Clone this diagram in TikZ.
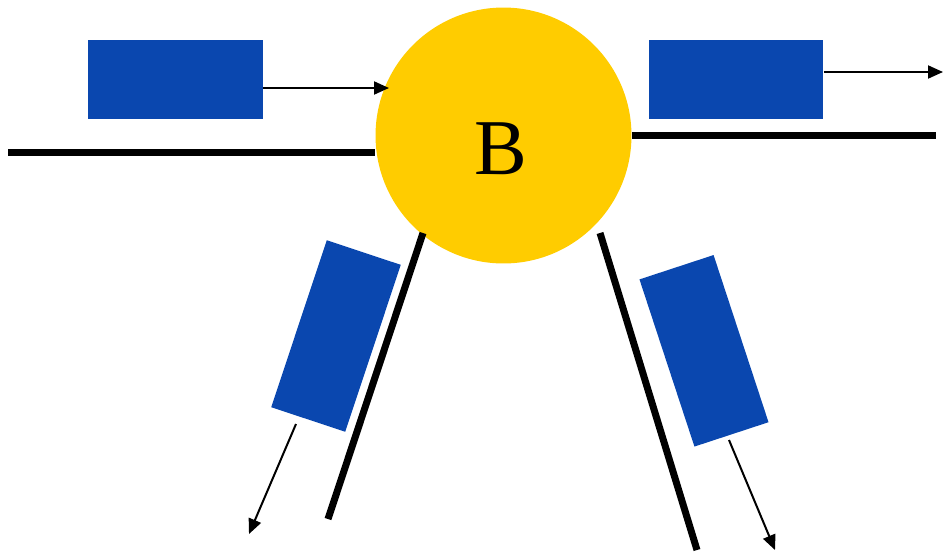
\documentclass[tikz,border=0pt]{standalone}
\usepackage{fontspec}
\setmainfont{Liberation Serif}
\usetikzlibrary{arrows.meta}

\definecolor{busyellow}{RGB}{255,204,0}
\definecolor{flowblue}{RGB}{10,71,175}

\tikzset{
	flowbox/.style={fill=flowblue, inner sep=0pt, minimum width=3.5cm, minimum height=1.58cm},
	slantbox/.style={fill=flowblue, inner sep=0pt, minimum width=1.56cm, minimum height=3.52cm},
	branch/.style={line width=0.14cm},
	flow/.style={line width=0.04cm, -{Triangle[length=0.3cm,width=0.26cm]}}
}

\begin{document}
\begin{tikzpicture}[x=0.02cm,y=-0.02cm]
			\useasboundingbox (0,0) rectangle (943,552);
			
			% bus
			\node[circle, fill=busyellow, minimum size=5.12cm, inner sep=0pt] (bus) at (503.5,135.5) {};
			\node[font=\fontsize{45}{45}\selectfont] (busname) at (501,149) {B};
			
			% branches
			\coordinate (westend) at (8,152);
			\coordinate (eastend) at (936,135);
			\coordinate (swstart) at (423,233);
			\coordinate (swend) at (328,519);
			\coordinate (sestart) at (600,233);
			\coordinate (seend) at (697,550);
			\draw[branch] (westend) -- (bus.west |- westend);
			\draw[branch] (bus.east |- eastend) -- (eastend);
			\draw[branch] (swstart) -- (swend);
			\draw[branch] (sestart) -- (seend);
			
			% flows
			\node[flowbox] (westflow) at (175.5,79.5) {};
			\node[flowbox] (eastflow) at (736,79.5) {};
			\node[slantbox, rotate=-18.4] (swflow) at (336,336) {};
			\node[slantbox, rotate=18.2] (seflow) at (704,350.8) {};
			
			\coordinate (westtip) at (389,88);
			\coordinate (easttip) at (943,72);
			\coordinate (swfoot) at (296,424);
			\coordinate (swtip) at (249,534);
			\coordinate (sefoot) at (729,440);
			\coordinate (setip) at (775,550);
			\draw[flow] (westflow.east |- westtip) -- (westtip);
			\draw[flow] (eastflow.east |- easttip) -- (easttip);
			\draw[flow] (swfoot) -- (swtip);
			\draw[flow] (sefoot) -- (setip);
			
		\end{tikzpicture}
\end{document}
